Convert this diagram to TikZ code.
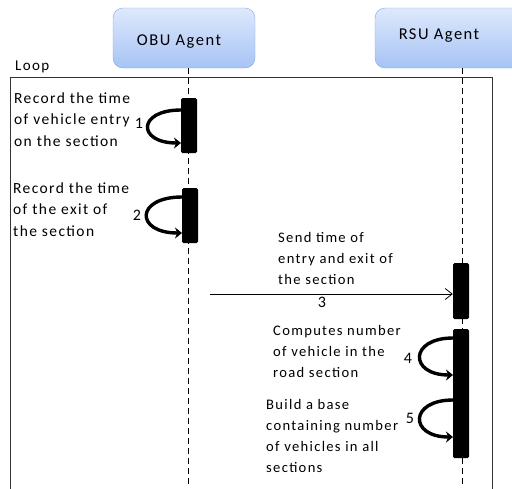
\documentclass[tikz,border=0pt]{standalone}
\usepackage{fontspec}
\setmainfont{Carlito}[LetterSpace=9]
\usetikzlibrary{arrows.meta}
\definecolor{boxtop}{RGB}{222,233,252}
\definecolor{boxbot}{RGB}{166,195,245}
\definecolor{boxline}{RGB}{135,165,222}

\begin{document}
\begin{tikzpicture}[x=1pt,y=-1pt,
    agent/.style={draw=boxline,rounded corners=10pt,top color=boxtop,bottom color=boxbot,
      minimum height=60pt},
    agentname/.style={inner sep=0pt,font=\fontsize{16.5}{18}\selectfont},
    life/.style={dash pattern=on 6pt off 4pt,line width=0.9pt},
    act/.style={fill=black,rounded corners=1.5pt,minimum width=16pt,inner sep=0pt},
    note/.style={anchor=base west,align=left,inner sep=0pt,font=\fontsize{15.5}{21.5}\selectfont},
    rnote/.style={note,font=\fontsize{14.6}{21}\selectfont},
    num/.style={inner sep=0pt,font=\fontsize{16}{18}\selectfont},
    self/.style={line width=3.4pt,-{Stealth[length=7pt,width=11pt]}}]
  \useasboundingbox (0,0) rectangle (512,488);
  \clip (0,0) rectangle (512,488);

  % agents
  \node[agent,minimum width=142pt] (obu) at (184,38) {};
  \node[agent,minimum width=160pt] (rsu) at (455,38) {};
  \node[agentname] (obuname) at (179,42) {OBU Agent};
  \node[agentname] (rsuname) at (439,36) {RSU Agent};

  % loop frame
  \node[anchor=base west,inner sep=0pt,font=\fontsize{15}{18}\selectfont] (loop) at (15,70) {Loop};
  \draw[line width=0.9pt,black!80] (10,490) -- (10,77) -- (492,77) -- (492,490);

  % lifelines
  \coordinate (obuend) at (188,488);
  \coordinate (rsuend) at (462,488);
  \draw[life] (obu.south -| obuend) -- (obuend);
  \draw[life] (rsu.south -| rsuend) -- (rsuend);

  % activations
  \node[act,minimum height=55pt] (act1) at (189,125.5) {};
  \node[act,minimum height=55pt] (act2) at (190,215.5) {};
  \node[act,minimum height=56pt] (act3) at (461,291) {};
  \node[act,minimum height=129pt] (act4) at (461,393.5) {};

  % step 1 and 2
  \node[note] (t1) at (14,146) {Record the time\\of vehicle entry\\on the section};
  \node[note] (t2) at (13,236) {Record the time\\of the exit of\\the section};
  \coordinate (s1) at (181,110);
  \coordinate (e1) at (181,143);
  \coordinate (s2) at (182,197);
  \coordinate (e2) at (182,233);
  \draw[self] (s1) .. controls (137,110) and (137,143) .. (e1);
  \draw[self] (s2) .. controls (135,197) and (135,233) .. (e2);
  \node[num] (n1) at (139,123) {1};
  \node[num] (n2) at (137,215) {2};

  % step 3
  \coordinate (m3) at (210,294);
  \draw[line width=0.8pt,-{Straight Barb[length=7pt,width=11pt]}] (m3) -- (m3 -| act3.west);
  \node[rnote] (t3) at (278,284) {Send time of\\entry and exit of\\the section};
  \node[num] (n3) at (322,302) {3};

  % step 4 and 5
  \node[rnote] (t4) at (273,377) {Computes number\\of vehicle in the\\road section};
  \node[rnote] (t5) at (266,472) {Build a base\\containing number\\of vehicles in all\\sections};
  \coordinate (s4) at (453,338);
  \coordinate (e4) at (453,375);
  \coordinate (s5) at (453,400);
  \coordinate (e5) at (453,437);
  \draw[self] (s4) .. controls (409,338) and (409,375) .. (e4);
  \draw[self] (s5) .. controls (409,400) and (409,437) .. (e5);
  \node[num] (n4) at (408,358) {4};
  \node[num] (n5) at (410,418) {5};
\end{tikzpicture}
\end{document}
